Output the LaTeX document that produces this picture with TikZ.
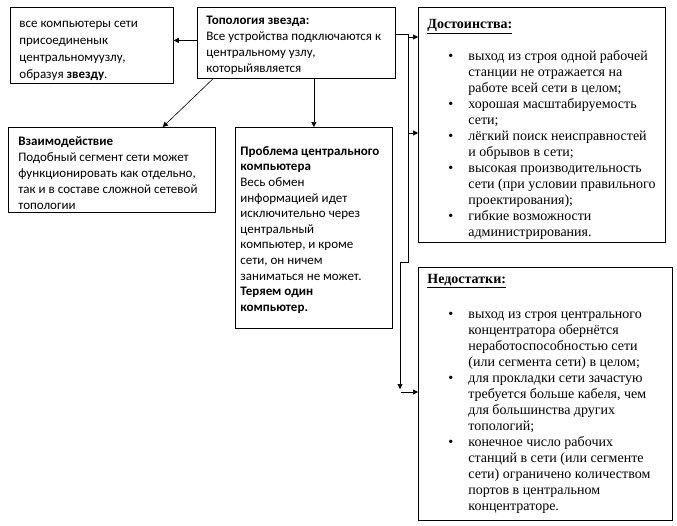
\documentclass[tikz,border=0pt]{standalone}
\usepackage{fontspec}
\setmainfont{Liberation Serif}
\newfontfamily\calib{Carlito}
\usetikzlibrary{arrows.meta}

\tikzset{
  box/.style={draw, line width=0.8pt, anchor=north west, inner xsep=9pt, inner ysep=0pt},
  sansbox/.style={box, font=\calib\fontsize{13}{16}\selectfont},
  serifbox/.style={box, font=\fontsize{14}{16}\selectfont},
  link/.style={-{Triangle[length=5pt,width=5pt]}, line width=0.6pt}
}
% width, height, top gap, text
\newcommand{\boxbody}[4]{\parbox[c][#2][t]{#1}{\raggedright\rightskip=-6pt plus 1fil\vspace*{#3}\strut#4}}
\newcommand{\bul}{\hspace*{21pt}\makebox[20pt][l]{\textbullet}}
\newcommand{\cont}{\hspace*{41pt}}

\begin{document}
\begin{tikzpicture}[x=1pt, y=-1pt]
  \useasboundingbox (0,0) rectangle (677,525);

  % left column
  \node[sansbox, font=\calib\fontsize{13}{17}\selectfont] (all) at (10,7) {\boxbody{145pt}{76pt}{8.5pt}{%
    все компьютеры сети\\ присоединенык\\ центральномуузлу,\\ образуя \textbf{звезду}.}};
  \node[sansbox] (topo) at (197,7) {\boxbody{180pt}{71pt}{6pt}{%
    \textbf{Топология звезда:}\\ Все устройства подключаются к\\ центральному узлу,\\ которыйявляется}};
  \node[sansbox, inner xsep=10pt] (inter) at (8,127) {\boxbody{187pt}{85pt}{7pt}{%
    \textbf{Взаимодействие}\\ Подобный сегмент сети может\\ функционировать как отдельно,\\ так и в составе сложной сетевой\\ топологии}};
  \node[sansbox, font=\calib\fontsize{13}{15.6}\selectfont, inner xsep=5pt] (prob) at (235,127) {\boxbody{147pt}{201pt}{17pt}{%
    \textbf{Проблема центрального}\\ \textbf{компьютера}\\ Весь обмен\\ информацией идет\\ исключительно через\\
    центральный\\ компьютер, и кроме\\ сети, он ничем\\ заниматься не может.\\ \textbf{Теряем один}\\ \textbf{компьютер.}}};

  % right column
  \node[serifbox] (plus) at (418,7) {\boxbody{229pt}{235pt}{10pt}{%
    \underline{\textbf{Достоинства:}}\\[16pt]
    \bul выход из строя одной рабочей\\ \cont станции не отражается на\\ \cont работе всей сети в целом;\\
    \bul хорошая масштабируемость\\ \cont сети;\\
    \bul лёгкий поиск неисправностей\\ \cont и обрывов в сети;\\
    \bul высокая производительность\\ \cont сети (при условии правильного\\ \cont проектирования);\\
    \bul гибкие возможности\\ \cont администрирования.}};
  \node[serifbox] (minus) at (418,267) {\boxbody{236pt}{253pt}{5pt}{%
    \underline{\textbf{Недостатки:}}\\[19pt]
    \bul выход из строя центрального\\ \cont концентратора обернётся\\ \cont неработоспособностью сети\\ \cont (или сегмента сети) в целом;\\
    \bul для прокладки сети зачастую\\ \cont требуется больше кабеля, чем\\ \cont для большинства других\\ \cont топологий;\\
    \bul конечное число рабочих\\ \cont станций в сети (или сегменте\\ \cont сети) ограничено количеством\\ \cont портов в центральном\\ \cont концентраторе.}};

  % connectors
  \coordinate (split) at (408,37);
  \coordinate (mid) at (408,133);
  \coordinate (bend) at (408,262);
  \coordinate (drop) at (400,389);
  \coordinate (entry) at (401,392);
  \draw[link] ([yshift=2.5pt]topo.west) -- ([yshift=2.5pt]topo.west -| all.east);
  \draw[link] ([xshift=16pt]topo.south west) -- ([xshift=-53pt]inter.north east);
  \draw[link] (topo.south -| prob.north) -- (prob.north);
  \draw[link] ([yshift=8.5pt]topo.east) -| (split) -- (split -| plus.west);
  \draw[link] (mid) -- (mid -| plus.west);
  \draw[link] (split) -- (bend) -| (drop);
  \draw[link] (entry) -- (entry -| minus.west);
\end{tikzpicture}
\end{document}
